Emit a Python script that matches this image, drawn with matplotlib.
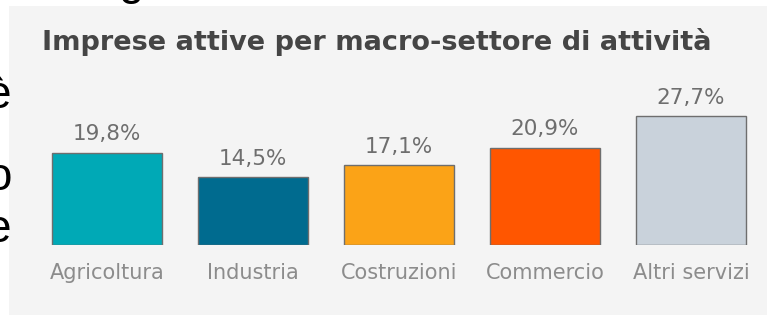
import matplotlib.pyplot as plt
from matplotlib.patches import Rectangle

# data
categories = ["Agricoltura", "Industria", "Costruzioni", "Commercio", "Altri servizi"]
values = [19.8, 14.5, 17.1, 20.9, 27.7]
labels = ["19,8%", "14,5%", "17,1%", "20,9%", "27,7%"]
colors = ["#00a9b6", "#006b8f", "#fba317", "#ff5600", "#c9d2db"]

W, H = 767, 315
fig = plt.figure(figsize=(W / 100, H / 100), dpi=100)
fig.patch.set_facecolor("white")

# grey panel behind the chart
fig.patches.append(Rectangle((9 / W, 0), 1 - 9 / W, 1 - 6 / H,
                             transform=fig.transFigure, facecolor="#f4f4f4",
                             edgecolor="none", zorder=0))

# cut-off text from the surrounding page
for ch, ytop in [("è", 74), ("o", 156), ("e", 208)]:
    fig.text(11 / W, 1 - ytop / H, ch, ha="right", va="top", fontsize=33,
             color="black", family="Liberation Sans")
fig.text(131 / W, 1 + 40 / H, "g", ha="center", va="top", fontsize=33,
         color="black", family="Liberation Sans")

fig.text(42 / W, 1 - 42 / H, "Imprese attive per macro-settore di attività",
         ha="left", va="center", fontsize=19.5, fontweight="bold", color="#454545")

ax = fig.add_axes([34 / W, (H - 245) / H, 730 / W, 139.7 / H])
ax.set_zorder(2)
ax.patch.set_alpha(0)
x = range(len(categories))
bars = ax.bar(x, values, width=0.755, color=colors, edgecolor="#6e6e6e", linewidth=1)
ax.set_xlim(-0.5, 4.5)
ax.set_ylim(0, 30)

for b, lab in zip(bars, labels):
    ax.annotate(lab, (b.get_x() + b.get_width() / 2, b.get_height()),
                xytext=(0, 6), textcoords="offset points", ha="center", va="bottom",
                fontsize=15.5, color="#6e6e6e", annotation_clip=False)

ax.set_xticks(list(x))
ax.set_xticklabels(categories, fontsize=15, color="#8c8c8c")
ax.tick_params(axis="x", length=0, pad=13)
ax.set_yticks([])
for s in ax.spines.values():
    s.set_visible(False)

fig.savefig("out.png", dpi=100)
